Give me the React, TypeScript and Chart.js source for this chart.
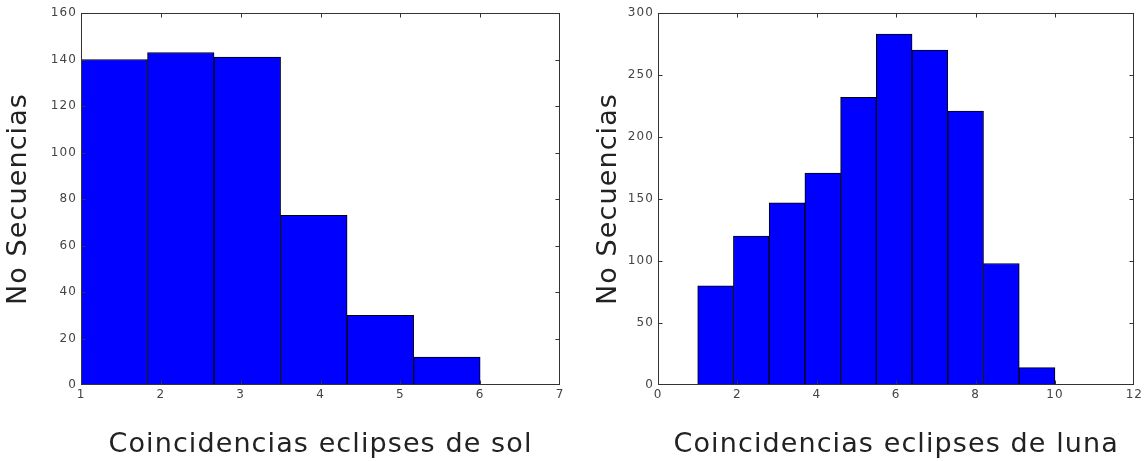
import React, { useEffect, useRef } from 'react';
import { Chart, registerables } from 'chart.js';

Chart.register(...registerables);

// ---- Data ----
const solCounts = [140, 143, 141, 73, 30, 12];
const solBinRange = [1, 6];
const solXLimits = [1, 7];
const solXStep = 1;
const solYLimits = [0, 160];
const solYStep = 20;

const lunaCounts = [80, 120, 147, 171, 232, 283, 270, 221, 98, 14];
const lunaBinRange = [1, 10];
const lunaXLimits = [0, 12];
const lunaXStep = 2;
const lunaYLimits = [0, 300];
const lunaYStep = 50;

const yTitle = 'No Secuencias';
const solXTitle = 'Coincidencias eclipses de sol';
const lunaXTitle = 'Coincidencias eclipses de luna';

const FONT = "'DejaVu Sans', sans-serif";

function binPoints(counts: number[], range: number[]) {
  const w = (range[1] - range[0]) / counts.length;
  return counts.map((c, i) => ({ x: range[0] + (i + 0.5) * w, y: c }));
}

const framePlugin = {
  id: 'mplFrame',
  beforeDraw(chart: any) {
    chart.ctx.letterSpacing = '1.1px';
  },
  afterDatasetsDraw(chart: any) {
    const { ctx, chartArea: a, scales } = chart;
    const x = scales.x;
    const y = scales.y;
    ctx.save();
    ctx.strokeStyle = '#333';
    ctx.lineWidth = 1;
    const L = Math.round(a.left) + 0.5;
    const R = Math.round(a.right) - 0.5;
    const T = Math.round(a.top) + 0.5;
    const B = Math.round(a.bottom) - 0.5;
    ctx.strokeRect(L, T, R - L, B - T);
    ctx.beginPath();
    const tl = 4;
    const clamp = (v: number, lo: number, hi: number) => Math.min(hi, Math.max(lo, v));
    for (let i = 0; i < x.ticks.length; i++) {
      const px = clamp(Math.round(x.getPixelForTick(i)) + 0.5, L, R);
      ctx.moveTo(px, B);
      ctx.lineTo(px, B - tl);
      ctx.moveTo(px, T);
      ctx.lineTo(px, T + tl);
    }
    for (let i = 0; i < y.ticks.length; i++) {
      const py = clamp(Math.round(y.getPixelForTick(i)) + 0.5, T, B);
      ctx.moveTo(L, py);
      ctx.lineTo(L + tl, py);
      ctx.moveTo(R, py);
      ctx.lineTo(R - tl, py);
    }
    ctx.stroke();
    ctx.restore();
  },
};

function makeConfig(opts: {
  counts: number[];
  binRange: number[];
  xLimits: number[];
  xStep: number;
  yLimits: number[];
  yStep: number;
  xTitle: string;
  yAxisWidth: number;
  yTitlePad: number;
  padRight: number;
}): any {
  return {
    type: 'bar',
    data: {
      datasets: [
        {
          data: binPoints(opts.counts, opts.binRange),
          backgroundColor: '#0000ff',
          borderColor: '#000000',
          borderWidth: 1,
          borderSkipped: false,
          barPercentage: 1,
          categoryPercentage: 1,
        },
      ],
    },
    options: {
      animation: false,
      responsive: true,
      maintainAspectRatio: false,
      layout: { padding: { top: 13, right: opts.padRight, left: 0, bottom: 0 } },
      plugins: { legend: { display: false }, tooltip: { enabled: false } },
      scales: {
        x: {
          type: 'linear',
          min: opts.xLimits[0],
          max: opts.xLimits[1],
          offset: false,
          grid: { display: false, drawTicks: false, offset: false },
          border: { display: false },
          ticks: {
            stepSize: opts.xStep,
            padding: 3,
            color: '#444',
            font: { family: FONT, size: 12 },
            maxRotation: 0,
          },
          title: {
            display: true,
            text: opts.xTitle,
            color: '#222',
            font: { family: FONT, size: 27 },
            padding: { top: 0, bottom: 0 },
          },
          afterFit(scale: any) {
            scale.height = 76;
          },
        },
        y: {
          type: 'linear',
          min: opts.yLimits[0],
          max: opts.yLimits[1],
          grid: { display: false, drawTicks: false },
          border: { display: false },
          ticks: {
            stepSize: opts.yStep,
            padding: 4,
            color: '#444',
            font: { family: FONT, size: 12 },
          },
          title: {
            display: true,
            text: yTitle,
            color: '#222',
            font: { family: FONT, size: 27 },
            padding: { top: opts.yTitlePad, bottom: 0 },
          },
          afterFit(scale: any) {
            scale.width = opts.yAxisWidth;
          },
        },
      },
    },
    plugins: [framePlugin],
  };
}

function HistChart(props: { config: any; left: number; width: number }) {
  const ref = useRef<HTMLCanvasElement | null>(null);
  useEffect(() => {
    if (!ref.current) return;
    const chart = new Chart(ref.current, props.config);
    return () => chart.destroy();
  }, []);
  return (
    <div
      style={{
        position: 'absolute',
        left: props.left,
        top: 0,
        width: props.width,
        height: 461,
      }}
    >
      <canvas ref={ref} />
    </div>
  );
}

export default function App() {
  const solConfig = makeConfig({
    counts: solCounts,
    binRange: solBinRange,
    xLimits: solXLimits,
    xStep: solXStep,
    yLimits: solYLimits,
    yStep: solYStep,
    xTitle: solXTitle,
    yAxisWidth: 81,
    yTitlePad: 3,
    padRight: 12,
  });
  const lunaConfig = makeConfig({
    counts: lunaCounts,
    binRange: lunaBinRange,
    xLimits: lunaXLimits,
    xStep: lunaXStep,
    yLimits: lunaYLimits,
    yStep: lunaYStep,
    xTitle: lunaXTitle,
    yAxisWidth: 86,
    yTitlePad: 21,
    padRight: 8,
  });
  return (
    <div
      style={{
        position: 'absolute',
        left: 0,
        top: 0,
        width: 1145,
        height: 461,
        background: '#fff',
      }}
    >
      <HistChart config={solConfig} left={0} width={572} />
      <HistChart config={lunaConfig} left={572} width={573} />
    </div>
  );
}
